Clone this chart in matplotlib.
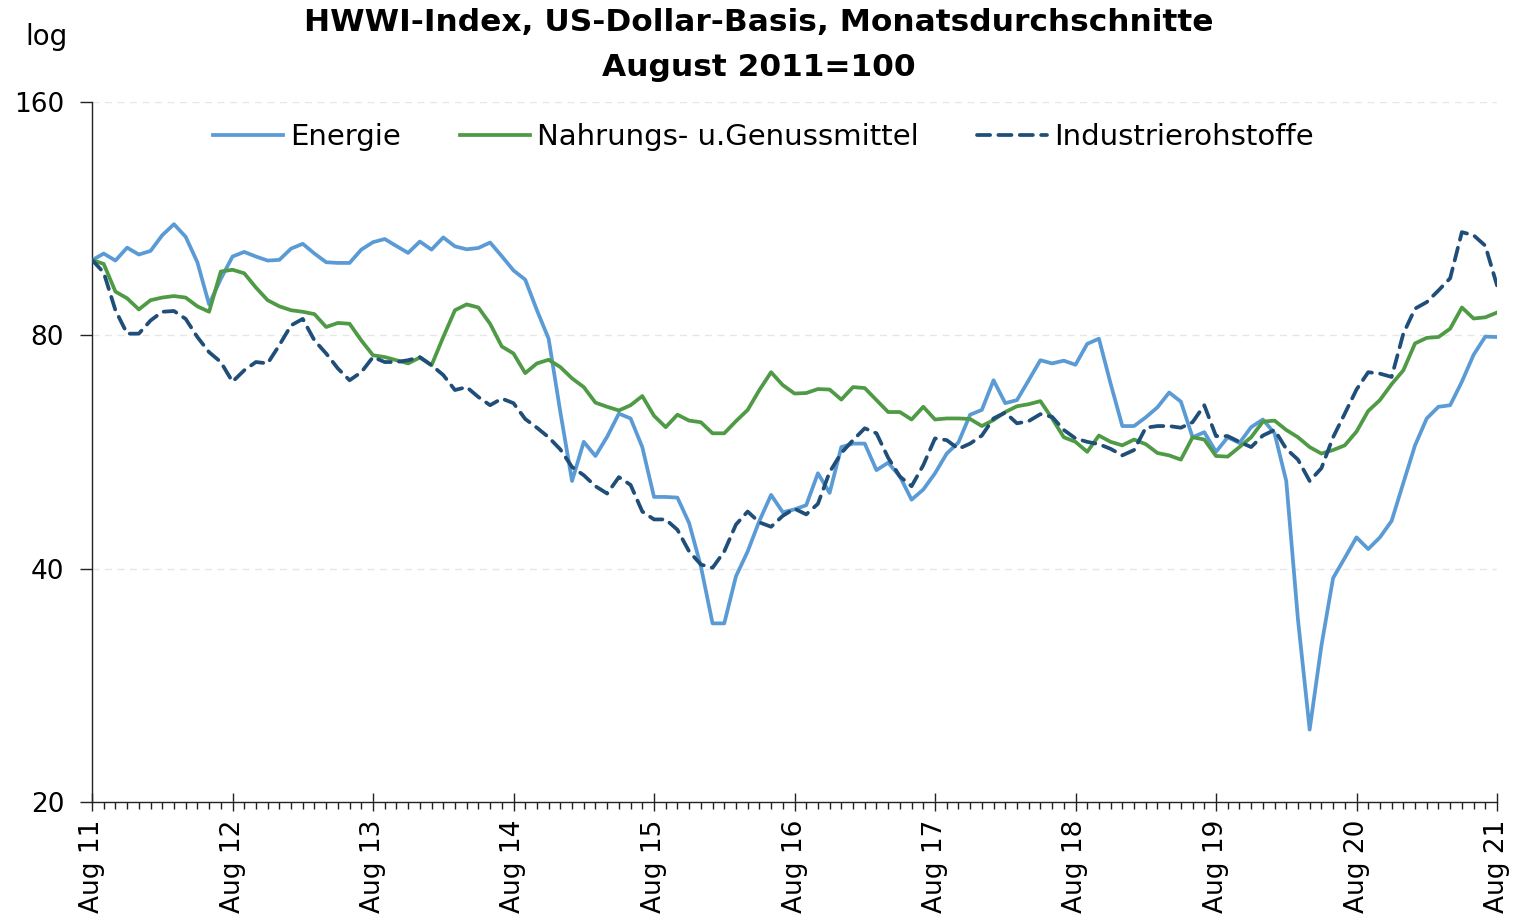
import matplotlib
matplotlib.use("Agg")
import matplotlib.pyplot as plt
from matplotlib.ticker import FixedLocator, NullFormatter, NullLocator
import numpy as np

plt.rcParams['font.family'] = ['DejaVu Sans']

title = "HWWI-Index, US-Dollar-Basis, Monatsdurchschnitte\nAugust 2011=100"
series_names = ["Energie", "Nahrungs- u.Genussmittel", "Industrierohstoffe"]
tick_labels = ["Aug 11", "Aug 12", "Aug 13", "Aug 14", "Aug 15", "Aug 16",
               "Aug 17", "Aug 18", "Aug 19", "Aug 20", "Aug 21"]
y_ticks = [20, 40, 80, 160]

energie = [
    100.0, 102.0, 99.9, 103.8, 101.7, 102.8, 107.7, 111.3, 107.2, 99.4,
    87.7, 94.6, 101.1, 102.5, 101.1, 99.9, 100.1, 103.5, 105.0, 102.0,
    99.4, 99.2, 99.2, 103.2, 105.5, 106.5, 104.3, 102.2, 105.7, 103.2,
    107.0, 104.2, 103.3, 103.7, 105.4, 101.2, 97.0, 94.4, 86.2, 79.2,
    63.7, 51.9, 58.3, 55.9, 59.2, 63.4, 62.5, 57.4, 49.5, 49.5,
    49.4, 45.8, 40.3, 34.0, 34.0, 39.1, 42.1, 46.1, 49.8, 47.3,
    47.7, 48.3, 53.1, 50.1, 57.4, 58.0, 58.0, 53.6, 54.8, 52.6,
    49.1, 50.6, 53.1, 56.3, 58.2, 63.2, 64.1, 70.0, 65.4, 66.0,
    70.0, 74.3, 73.6, 74.2, 73.3, 78.0, 79.2, 69.3, 61.1, 61.1,
    62.7, 64.6, 67.5, 65.7, 59.1, 60.0, 56.6, 59.1, 58.1, 60.9,
    62.3, 59.8, 51.9, 34.4, 24.8, 31.8, 38.9, 41.3, 43.9, 42.4,
    43.9, 46.1, 51.6, 57.7, 62.5, 64.7, 65.0, 69.7, 75.5, 79.7,
    79.6]

nahrung = [
    100.1, 98.9, 91.1, 89.3, 86.4, 88.8, 89.5, 89.9, 89.5, 87.2,
    85.8, 96.7, 97.2, 96.2, 92.2, 88.8, 87.2, 86.2, 85.8, 85.2,
    82.0, 83.0, 82.8, 78.8, 75.4, 75.0, 74.3, 73.6, 74.9, 73.2,
    79.6, 86.2, 87.7, 86.9, 82.8, 77.4, 75.8, 71.5, 73.6, 74.4,
    72.8, 70.4, 68.6, 65.5, 64.7, 64.0, 65.0, 66.8, 63.0, 60.9,
    63.2, 62.1, 61.8, 59.8, 59.8, 62.0, 64.1, 68.0, 71.7, 69.0,
    67.3, 67.4, 68.2, 68.1, 66.1, 68.6, 68.4, 66.0, 63.7, 63.7,
    62.3, 64.7, 62.3, 62.5, 62.5, 62.4, 61.1, 62.2, 63.7, 64.8,
    65.2, 65.8, 62.5, 59.1, 58.3, 56.6, 59.4, 58.3, 57.7, 58.7,
    57.9, 56.4, 56.0, 55.3, 59.1, 58.7, 55.9, 55.8, 57.4, 59.1,
    61.9, 62.1, 60.4, 59.1, 57.4, 56.3, 56.9, 57.7, 60.1, 63.9,
    66.0, 69.2, 72.1, 78.1, 79.4, 79.6, 81.6, 86.9, 84.1, 84.4,
    85.6]

industrie = [
    100.1, 96.4, 86.2, 80.4, 80.4, 83.6, 85.8, 86.0, 84.0, 79.6,
    76.1, 73.9, 69.7, 72.1, 73.9, 73.6, 77.7, 82.4, 84.0, 78.8,
    75.8, 72.5, 70.0, 71.7, 75.0, 73.9, 73.9, 74.3, 75.0, 73.2,
    71.1, 68.0, 68.6, 66.6, 65.0, 66.3, 65.4, 62.4, 60.8, 59.1,
    57.0, 54.1, 52.8, 51.1, 50.0, 52.5, 51.3, 47.4, 46.3, 46.3,
    44.9, 42.1, 40.5, 40.1, 42.1, 45.6, 47.4, 45.9, 45.3, 46.8,
    47.8, 47.0, 48.5, 53.3, 56.4, 58.6, 60.7, 59.8, 55.6, 52.6,
    51.1, 54.4, 58.9, 58.6, 57.1, 58.0, 59.4, 62.5, 63.6, 61.6,
    62.0, 63.3, 62.8, 60.4, 58.9, 58.3, 57.9, 57.1, 56.0, 56.9,
    60.8, 61.1, 61.1, 60.8, 61.8, 65.0, 59.3, 59.3, 58.3, 57.4,
    59.4, 60.4, 57.1, 55.3, 51.9, 53.9, 59.1, 63.4, 68.1, 71.7,
    71.4, 70.7, 80.4, 86.6, 88.3, 91.4, 94.8, 108.7, 107.7, 104.4,
    92.8]

colors = ["#5B9BD5", "#4F9A45", "#1F4E79"]

fig = plt.figure(figsize=(15.17, 9.23), dpi=100)
ax = fig.add_axes([92/1517, 1-802/923, (1497-92)/1517, (802-102)/923])

months = np.arange(len(energie))
ax.plot(months, energie, color=colors[0], lw=2.7, label=series_names[0],
        solid_joinstyle='round', zorder=3)
ax.plot(months, nahrung, color=colors[1], lw=2.7, label=series_names[1],
        solid_joinstyle='round', zorder=3)
ax.plot(months, industrie, color=colors[2], lw=2.7, ls=(0, (3.5, 2.2)),
        dash_capstyle='round', label=series_names[2], zorder=4)

ax.set_yscale('log', base=2)
ax.set_ylim(20, 160)
ax.yaxis.set_major_locator(FixedLocator(y_ticks))
ax.yaxis.set_minor_locator(NullLocator())
ax.yaxis.set_minor_formatter(NullFormatter())
ax.set_yticklabels([str(v) for v in y_ticks])
ax.set_xlim(0, len(energie) - 1)
major_x = np.arange(0, len(energie), 12)
ax.set_xticks(major_x)
ax.set_xticklabels(tick_labels, rotation=90, va='top', ha='center')
ax.set_xticks(np.arange(0, len(energie)), minor=True)

ax.grid(axis='y', color='#e6e6e6', ls=(0, (5, 4)), lw=1.0, zorder=0)
for s in ['top', 'right']:
    ax.spines[s].set_visible(False)
for s in ['left', 'bottom']:
    ax.spines[s].set_color('#222222')
    ax.spines[s].set_linewidth(1.0)

ax.tick_params(axis='y', which='major', direction='out', length=9, width=1,
               labelsize=19, pad=11, colors='#222222', labelcolor='black')
ax.tick_params(axis='x', which='major', direction='inout', length=13, width=1,
               labelsize=19, pad=6, colors='#222222', labelcolor='black')
ax.tick_params(axis='x', which='minor', direction='out', length=5, width=1,
               colors='#222222')

leg = ax.legend(loc='center', bbox_to_anchor=(0.478, 0.950), ncol=3,
                frameon=False, fontsize=21, handlelength=2.4,
                handletextpad=0.25, columnspacing=2.0)

fig.text(0.5, 1 - 45/923, title, ha='center', va='center', fontsize=22.5,
         fontweight='bold', linespacing=1.68)
fig.text(46/1517, 1-37/923, "log", ha='center', va='center', fontsize=20)

fig.savefig("out.png", dpi=100)
